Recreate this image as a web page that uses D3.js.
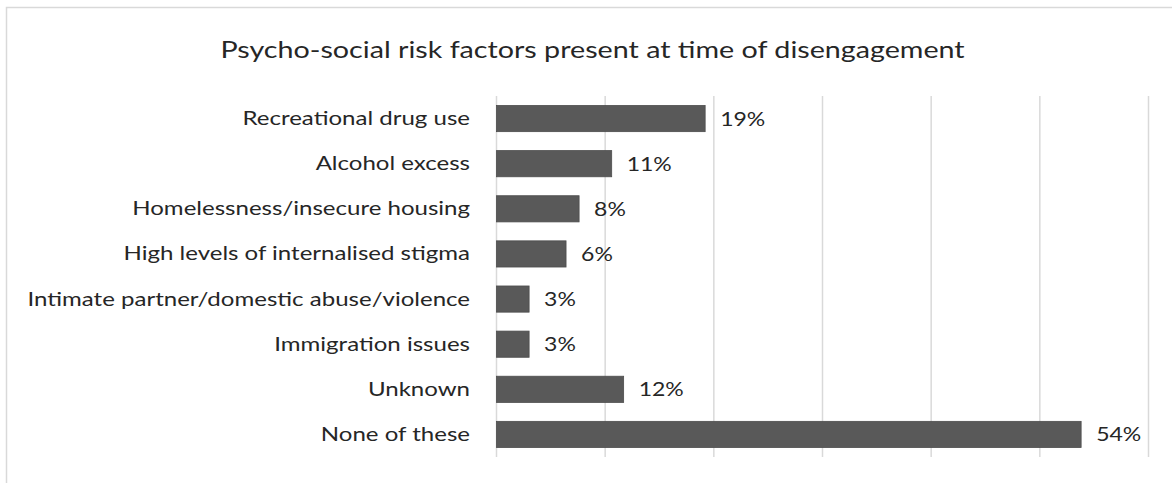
<!DOCTYPE html>
<html>
<head>
<meta charset="utf-8">
<script src="https://cdn.jsdelivr.net/npm/d3@7"></script>
<style>
  body { margin: 0; background: #fff; }
  svg text { font-family: Lato, "Open Sans", sans-serif; fill: #262626; }
</style>
</head>
<body>
<div id="vis"></div>
<script>
// data
var categories = ["Recreational drug use", "Alcohol excess", "Homelessness/insecure housing",
  "High levels of internalised stigma", "Intimate partner/domestic abuse/violence",
  "Immigration issues", "Unknown", "None of these"];
var values = [19.2, 10.6, 7.6, 6.4, 3.0, 3.0, 11.7, 53.8];
var ticks = [0, 10, 20, 30, 40, 50, 60];

var width = 1172, height = 483;
var svg = d3.select("#vis").append("svg")
    .attr("width", width).attr("height", height);

// original font is wider than Lato, so text gets stretched a bit
function place(x, y, sx) {
    return "translate(" + x + "," + y + ") scale(" + sx + ",1)";
}

// chart frame (runs off right/bottom of the picture)
svg.append("rect")
    .attr("x", 6.5).attr("y", 7.5)
    .attr("width", 1200).attr("height", 500)
    .attr("fill", "#fff").attr("stroke", "#d9d9d9").attr("stroke-width", 1.5);

svg.append("text")
    .attr("transform", place(592.5, 58, 1.275))
    .attr("text-anchor", "middle")
    .style("font-size", "22.5px")
    .text("Psycho-social risk factors present at time of disengagement");

var x = d3.scaleLinear().domain([0, 60]).range([496.5, 1148.5]);
var y = d3.scaleBand().domain(categories).range([96, 457]).paddingInner(0.42).paddingOuter(0.21);

svg.append("g").selectAll("line")
    .data(ticks).enter()
    .append("line")
    .attr("x1", function(d) { return x(d); })
    .attr("x2", function(d) { return x(d); })
    .attr("y1", 96).attr("y2", 457)
    .attr("stroke", "#d9d9d9").attr("stroke-width", 1.5);

var rows = svg.append("g").selectAll("g")
    .data(categories).enter()
    .append("g");

rows.append("rect")
    .attr("x", x(0))
    .attr("y", function(d) { return y(d); })
    .attr("width", function(d, i) { return x(values[i]) - x(0); })
    .attr("height", y.bandwidth())
    .attr("fill", "#595959").attr("stroke", "#4d4d4d").attr("stroke-width", 0.8);

rows.append("text")
    .attr("transform", function(d, i) {
        return place(x(values[i]) + 15, y(d) + y.bandwidth() / 2 + 7, 1.18);
    })
    .style("font-size", "19.5px")
    .text(function(d, i) { return Math.round(values[i]) + "%"; });

rows.append("text")
    .attr("transform", function(d) { return place(470, y(d) + y.bandwidth() / 2 + 6.5, 1.3); })
    .attr("text-anchor", "end")
    .style("font-size", "18.5px")
    .text(function(d) { return d; });
</script>
</body>
</html>
